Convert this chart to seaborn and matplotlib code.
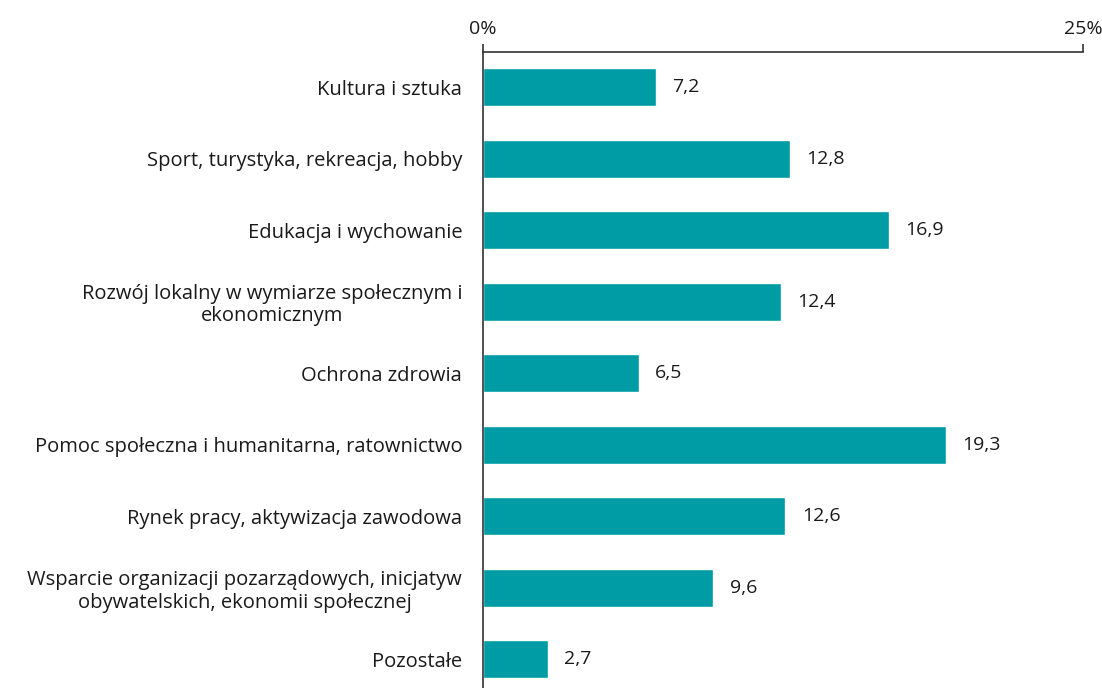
import matplotlib
matplotlib.use("Agg")
import matplotlib.pyplot as plt
import pandas as pd
import seaborn as sns

categories = [
    "Kultura i sztuka",
    "Sport, turystyka, rekreacja, hobby",
    "Edukacja i wychowanie",
    "Rozwój lokalny w wymiarze społecznym i\nekonomicznym",
    "Ochrona zdrowia",
    "Pomoc społeczna i humanitarna, ratownictwo",
    "Rynek pracy, aktywizacja zawodowa",
    "Wsparcie organizacji pozarządowych, inicjatyw\nobywatelskich, ekonomii społecznej",
    "Pozostałe",
]
values = [7.2, 12.8, 16.9, 12.4, 6.5, 19.3, 12.6, 9.6, 2.7]
x_ticks = [0, 25]
x_tick_labels = ["0%", "25%"]

df = pd.DataFrame({"cat": categories, "val": values})

sns.set_style("white")
plt.rcParams["font.family"] = ["Open Sans", "DejaVu Sans"]

fig = plt.figure(figsize=(11.02, 6.88), dpi=100)
ax = fig.add_axes([0.4383, 0.0, 0.5445, 0.9244])

sns.barplot(data=df, x="val", y="cat", color="#009ca6", width=0.53,
            saturation=1, ax=ax)

# value labels, polish decimal comma
for i, v in enumerate(values):
    ax.text(v + 0.68, i, f"{v:.1f}".replace(".", ","), va="center", ha="left",
            fontsize=14, color="#1a1a1a")

ax.set_xlim(0, 25)
ax.set_ylim(8.4, -0.49)
ax.xaxis.tick_top()
ax.set_xticks(x_ticks)
ax.set_xticklabels(x_tick_labels, fontsize=14, color="#1a1a1a")
ax.tick_params(axis="x", direction="out", length=6, width=1.2, color="#333333", pad=4)
ax.tick_params(axis="y", length=0, pad=15, labelsize=14.5, labelcolor="#1a1a1a")
for lbl in ax.get_yticklabels():
    lbl.set_multialignment("center")
    lbl.set_linespacing(1.15)
ax.set_xlabel("")
ax.set_ylabel("")

for s in ["right", "bottom"]:
    ax.spines[s].set_visible(False)
for s in ["top", "left"]:
    ax.spines[s].set_color("#333333")
    ax.spines[s].set_linewidth(1.2)

fig.savefig("out.png", dpi=100)
